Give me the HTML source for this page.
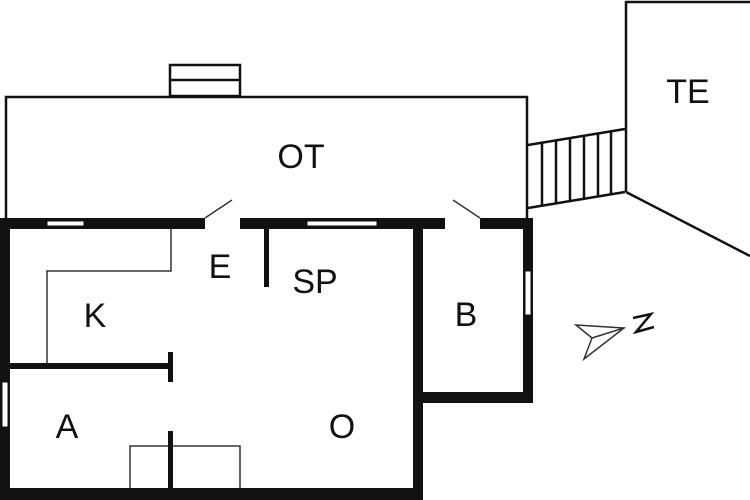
<!DOCTYPE html><html><head><style>body{margin:0;background:#fff}svg{display:block}text{font-family:"Liberation Sans",sans-serif;font-size:34px;fill:#111}</style></head><body>
<svg width="750" height="500" viewBox="0 0 750 500" xmlns="http://www.w3.org/2000/svg">
<g fill="none" stroke="#111" stroke-width="2.5">
<rect x="170" y="65" width="70" height="31"/><line x1="170" y1="80" x2="240" y2="80"/>
<polyline points="6,218 6,97 527,97 527,218"/>
<polyline points="528,145 625,129"/><polyline points="528,208 625,192"/>
<line x1="542" y1="143" x2="542" y2="206"/><line x1="556" y1="140" x2="556" y2="204"/><line x1="570" y1="138" x2="570" y2="201"/><line x1="584" y1="136" x2="584" y2="199"/><line x1="598" y1="134" x2="598" y2="197"/><line x1="611" y1="131" x2="611" y2="195"/>
<polyline points="626,192 626,2 750,2"/><line x1="626" y1="192" x2="750" y2="256"/>
</g>
<g fill="none" stroke="#333" stroke-width="1.5">
<polyline points="171,229 171,271 47,271 47,363"/>
<rect x="130" y="446" width="110" height="44"/>
<line x1="205" y1="218" x2="232" y2="200"/><line x1="480" y1="218" x2="453" y2="200"/>
<polygon points="576,325 624,328 584,359 592,338"/><line x1="592" y1="338" x2="624" y2="328"/>
<polyline points="633,318 651,314 636,332 654,327" stroke-width="2.5" stroke="#111"/>
</g>
<g fill="#111">
<rect x="0" y="218" width="205" height="11"/><rect x="240" y="218" width="205" height="11"/><rect x="480" y="218" width="53" height="11"/>
<rect x="0" y="218" width="10" height="282"/><rect x="0" y="488" width="423" height="12"/>
<rect x="413" y="218" width="10" height="282"/><rect x="523" y="218" width="10" height="185"/><rect x="413" y="392" width="120" height="11"/>
<rect x="10" y="363" width="161" height="6"/><rect x="168" y="352" width="5" height="30"/>
<rect x="168" y="431" width="5" height="58"/><rect x="264" y="229" width="5" height="58"/>
</g>
<g fill="#fff" stroke="#111" stroke-width="1">
<rect x="47" y="221" width="37" height="5"/><rect x="307" y="221" width="70" height="5"/>
<rect x="2" y="382" width="6" height="45"/><rect x="525" y="271" width="6" height="44"/>
</g>
<text x="220" y="278" text-anchor="middle">E</text>
<text x="315" y="293" text-anchor="middle">SP</text>
<text x="95" y="327" text-anchor="middle">K</text>
<text x="67" y="438" text-anchor="middle">A</text>
<text x="342" y="438" text-anchor="middle">O</text>
<text x="466" y="326" text-anchor="middle">B</text>
<text x="301" y="168" text-anchor="middle">OT</text>
<text x="688" y="103" text-anchor="middle">TE</text>
</svg></body></html>
